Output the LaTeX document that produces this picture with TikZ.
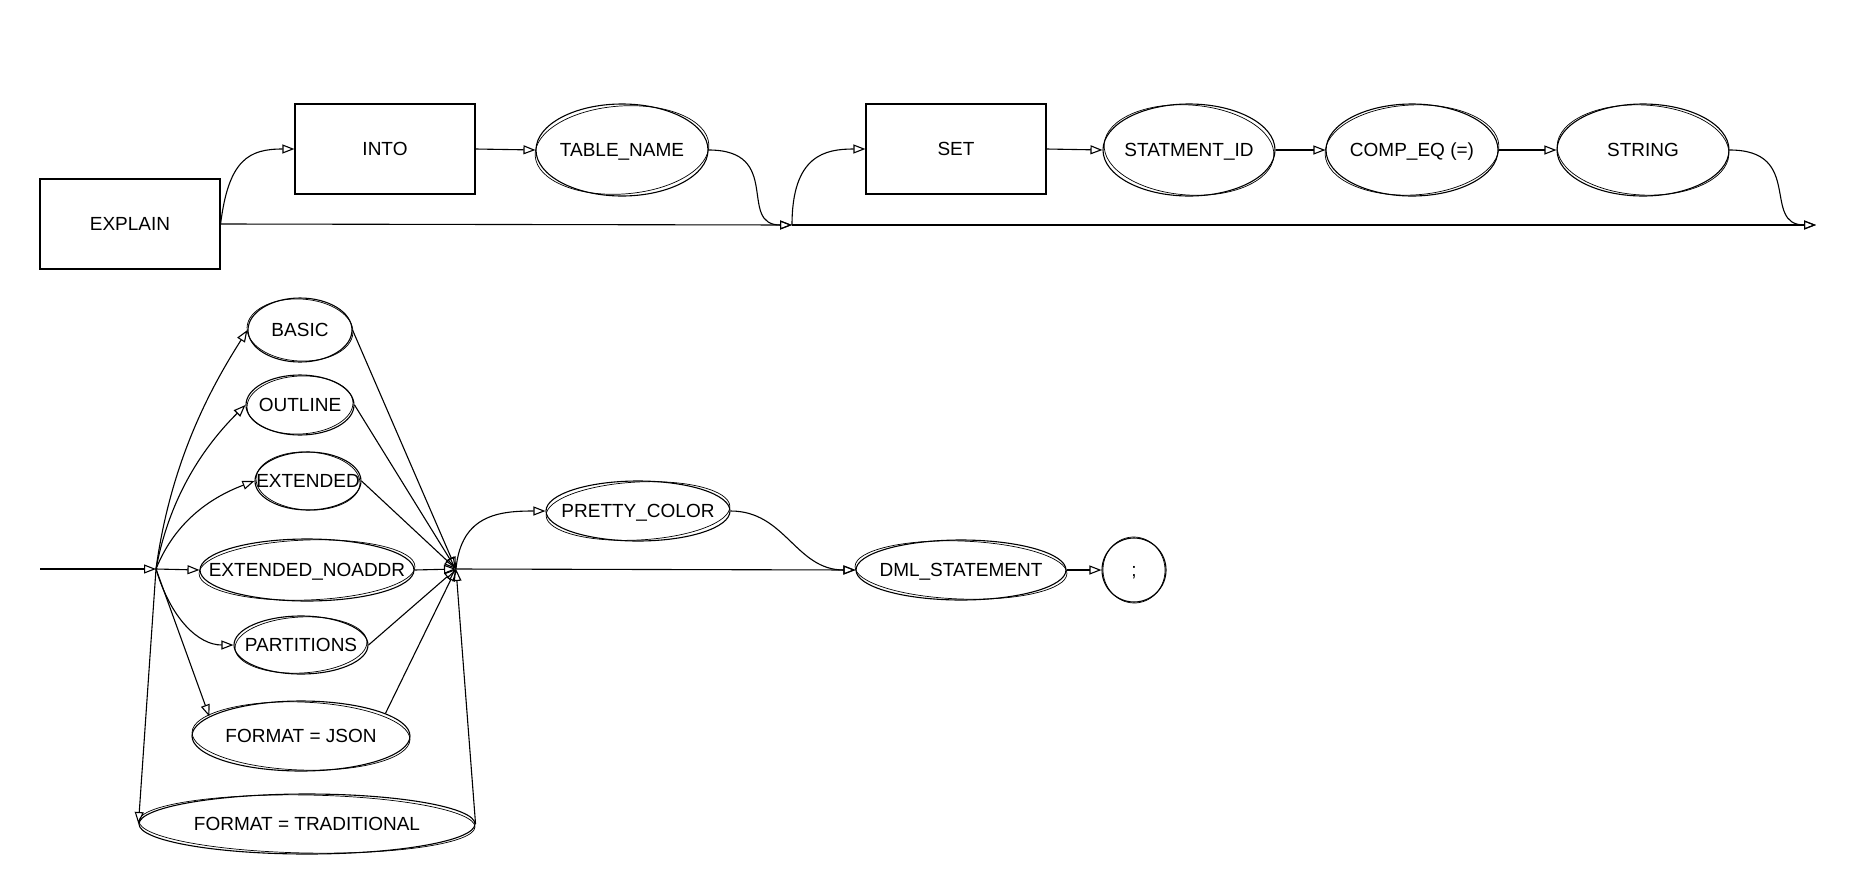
\documentclass[tikz,border=0pt]{standalone}
\usepackage{fontspec}
\setmainfont{Liberation Sans}
\usetikzlibrary{shapes.geometric,arrows.meta}
\newcommand\sketchell[4]{\draw[line width=0.7pt,rotate around={#4:(#1.center)}] (#1.center) ellipse [x radius=#2pt, y radius=#3pt];}
\begin{document}
\begin{tikzpicture}[x=1pt,y=-1pt,
  lbl/.style={font=\fontsize{19}{22}\selectfont,inner sep=0pt,text height=13.6pt,text depth=0pt},
  box/.style={lbl,draw,line width=1.2pt,rectangle,minimum width=180pt,minimum height=90pt,inner sep=0pt},
  term/.style={draw,line width=1.1pt,ellipse,inner sep=0pt,label={[lbl]center:#1}},
  conn/.style={line width=1.1pt,-{Triangle[open,length=12pt,width=9pt]}},
  plain/.style={line width=1.1pt}]
\useasboundingbox (0,0) rectangle (1867,889);
% top row
\node[box] (explain) at (130,224) {EXPLAIN};
\node[box] (into) at (385,149) {INTO};
\node[term={TABLE\_NAME},minimum width=172pt,minimum height=92pt] (tname) at (622,150) {};
\node[box] (set) at (956,149) {SET};
\node[term={STATMENT\_ID},minimum width=172pt,minimum height=92pt] (sid) at (1189,150) {};
\node[term={COMP\_EQ (=)},minimum width=172pt,minimum height=92pt] (comp) at (1412,150) {};
\node[term={STRING},minimum width=172pt,minimum height=92pt] (str) at (1643,150) {};
\sketchell{tname}{87}{44}{4}
\sketchell{sid}{85}{45}{-4}
\sketchell{comp}{87}{45}{3}
\sketchell{str}{86}{45}{-3}
\coordinate (j0) at (792,225);
\coordinate (endt) at (1816,225);
\draw[conn] (explain.east) .. controls +(8,-65) and +(-45,0) .. (into.west);
\draw[conn] (explain.east) -- (j0);
\draw[conn] (into.east) -- (tname.west);
\draw[conn] (tname.east) .. controls +(75,0) and +(-55,0) .. (j0);
\draw[conn] (j0) .. controls +(0,-70) and +(-40,0) .. (set.west);
\draw[conn] (j0) -- (endt);
\draw[conn] (set.east) -- (sid.west);
\draw[conn] (sid.east) -- (comp.west);
\draw[conn] (comp.east) -- (str.west);
\draw[conn] (str.east) .. controls +(75,0) and +(-55,0) .. (endt);
% bottom part
\coordinate (s) at (40,569);
\coordinate (j1) at (156,569);
\coordinate (j2) at (456,569);
\node[term={BASIC},minimum width=104pt,minimum height=64pt] (basic) at (300,330) {};
\node[term={OUTLINE},minimum width=108pt,minimum height=60pt] (outline) at (300,405) {};
\node[term={EXTENDED},minimum width=106pt,minimum height=58pt] (ext) at (308,481) {};
\node[term={EXTENDED\_NOADDR},minimum width=214pt,minimum height=62pt] (noaddr) at (307,570) {};
\node[term={PARTITIONS},minimum width=134pt,minimum height=58pt] (part) at (301,645) {};
\node[term={FORMAT = JSON},minimum width=218pt,minimum height=70pt] (json) at (301,736) {};
\node[term={FORMAT = TRADITIONAL},minimum width=336pt,minimum height=60pt] (trad) at (307,824) {};
\node[term={PRETTY\_COLOR},minimum width=184pt,minimum height=60pt] (pretty) at (638,511) {};
\node[term={DML\_STATEMENT},minimum width=210pt,minimum height=60pt] (dml) at (961,570) {};
\node[term={;},minimum width=64pt,minimum height=64pt] (semi) at (1134,570) {};
\sketchell{basic}{53}{31}{-3}
\sketchell{outline}{53}{29}{3}
\sketchell{ext}{52}{29}{-3}
\sketchell{noaddr}{108}{30}{2}
\sketchell{part}{66}{28}{3}
\sketchell{json}{109}{34}{-2}
\sketchell{trad}{168}{29}{-1}
\sketchell{pretty}{92}{29}{3}
\sketchell{dml}{106}{29}{-2}
\sketchell{semi}{31}{33}{4}
\draw[conn] (s) -- (j1);
\draw[conn] (j1) .. controls +(15,-110) and +(-35,55) .. (basic.west);
\draw[conn] (j1) .. controls +(15,-80) and +(-35,35) .. (outline.west);
\draw[conn] (j1) .. controls +(20,-50) and +(-40,15) .. (ext.west);
\draw[conn] (j1) -- (noaddr.west);
\draw[conn] (j1) .. controls +(15,50) and +(-35,0) .. (part.west);
\draw[conn] (j1) -- (json.168);
\draw[conn] (j1) -- (trad.west);
\draw[conn] (basic.east) -- (j2);
\draw[conn] (outline.east) -- (j2);
\draw[conn] (ext.east) -- (j2);
\draw[conn] (noaddr.east) -- (j2);
\draw[conn] (part.east) -- (j2);
\draw[conn] (json.15) -- (j2);
\draw[conn] (trad.east) -- (j2);
\draw[conn] (j2) .. controls +(5,-55) and +(-45,0) .. (pretty.west);
\draw[conn] (pretty.east) .. controls +(55,0) and +(-60,0) .. (dml.west);
\draw[conn] (j2) -- (dml.west);
\draw[conn] (dml.east) -- (semi.west);
\end{tikzpicture}
\end{document}
